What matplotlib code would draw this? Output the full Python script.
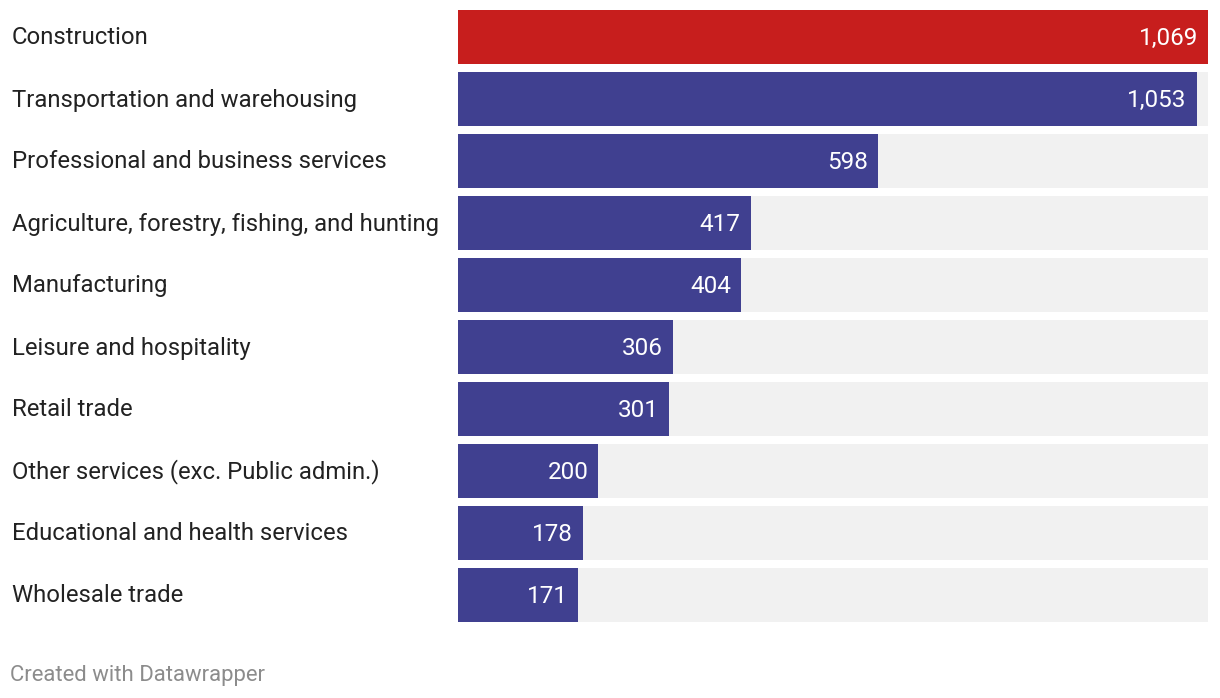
import matplotlib
matplotlib.use("Agg")
import matplotlib.pyplot as plt

categories = [
    "Construction",
    "Transportation and warehousing",
    "Professional and business services",
    "Agriculture, forestry, fishing, and hunting",
    "Manufacturing",
    "Leisure and hospitality",
    "Retail trade",
    "Other services (exc. Public admin.)",
    "Educational and health services",
    "Wholesale trade",
]
values = [1069, 1053, 598, 417, 404, 306, 301, 200, 178, 171]
highlight = "Construction"

plt.rcParams['font.family'] = ['Roboto', 'DejaVu Sans']

W, H = 1220, 698
fig = plt.figure(figsize=(W / 100, H / 100), dpi=100)
fig.patch.set_facecolor("white")

ax_left, ax_right = 458, 1208
ax_top, ax_bot = 6, 626
ax = fig.add_axes([ax_left / W, (H - ax_bot) / H, (ax_right - ax_left) / W, (ax_bot - ax_top) / H])
ax.set_xlim(0, max(values))
ax.set_ylim(len(values) - 0.5, -0.5)
ax.axis("off")

bh = 54 / 62
ys = list(range(len(values)))
ax.barh(ys, [max(values)] * len(values), height=bh, color="#f1f1f1", linewidth=0)
colors = ["#c71e1d" if c == highlight else "#404090" for c in categories]
ax.barh(ys, values, height=bh, color=colors, linewidth=0)

px = max(values) / (ax_right - ax_left)
for y, v, c in zip(ys, values, categories):
    ax.text(v - 10 * px, y + 1.5 / 62, f"{v:,}", ha="right", va="center", color="white", fontsize=17.5)
    fig.text(12 / W, (H - (38 + 62 * y)) / H, c, ha="left", va="center", color="#222222", fontsize=17.2)

fig.text(10 / W, (H - 676) / H, "Created with Datawrapper", ha="left", va="center", color="#8c8c8c", fontsize=15.9)

fig.savefig("out.png", dpi=100)
